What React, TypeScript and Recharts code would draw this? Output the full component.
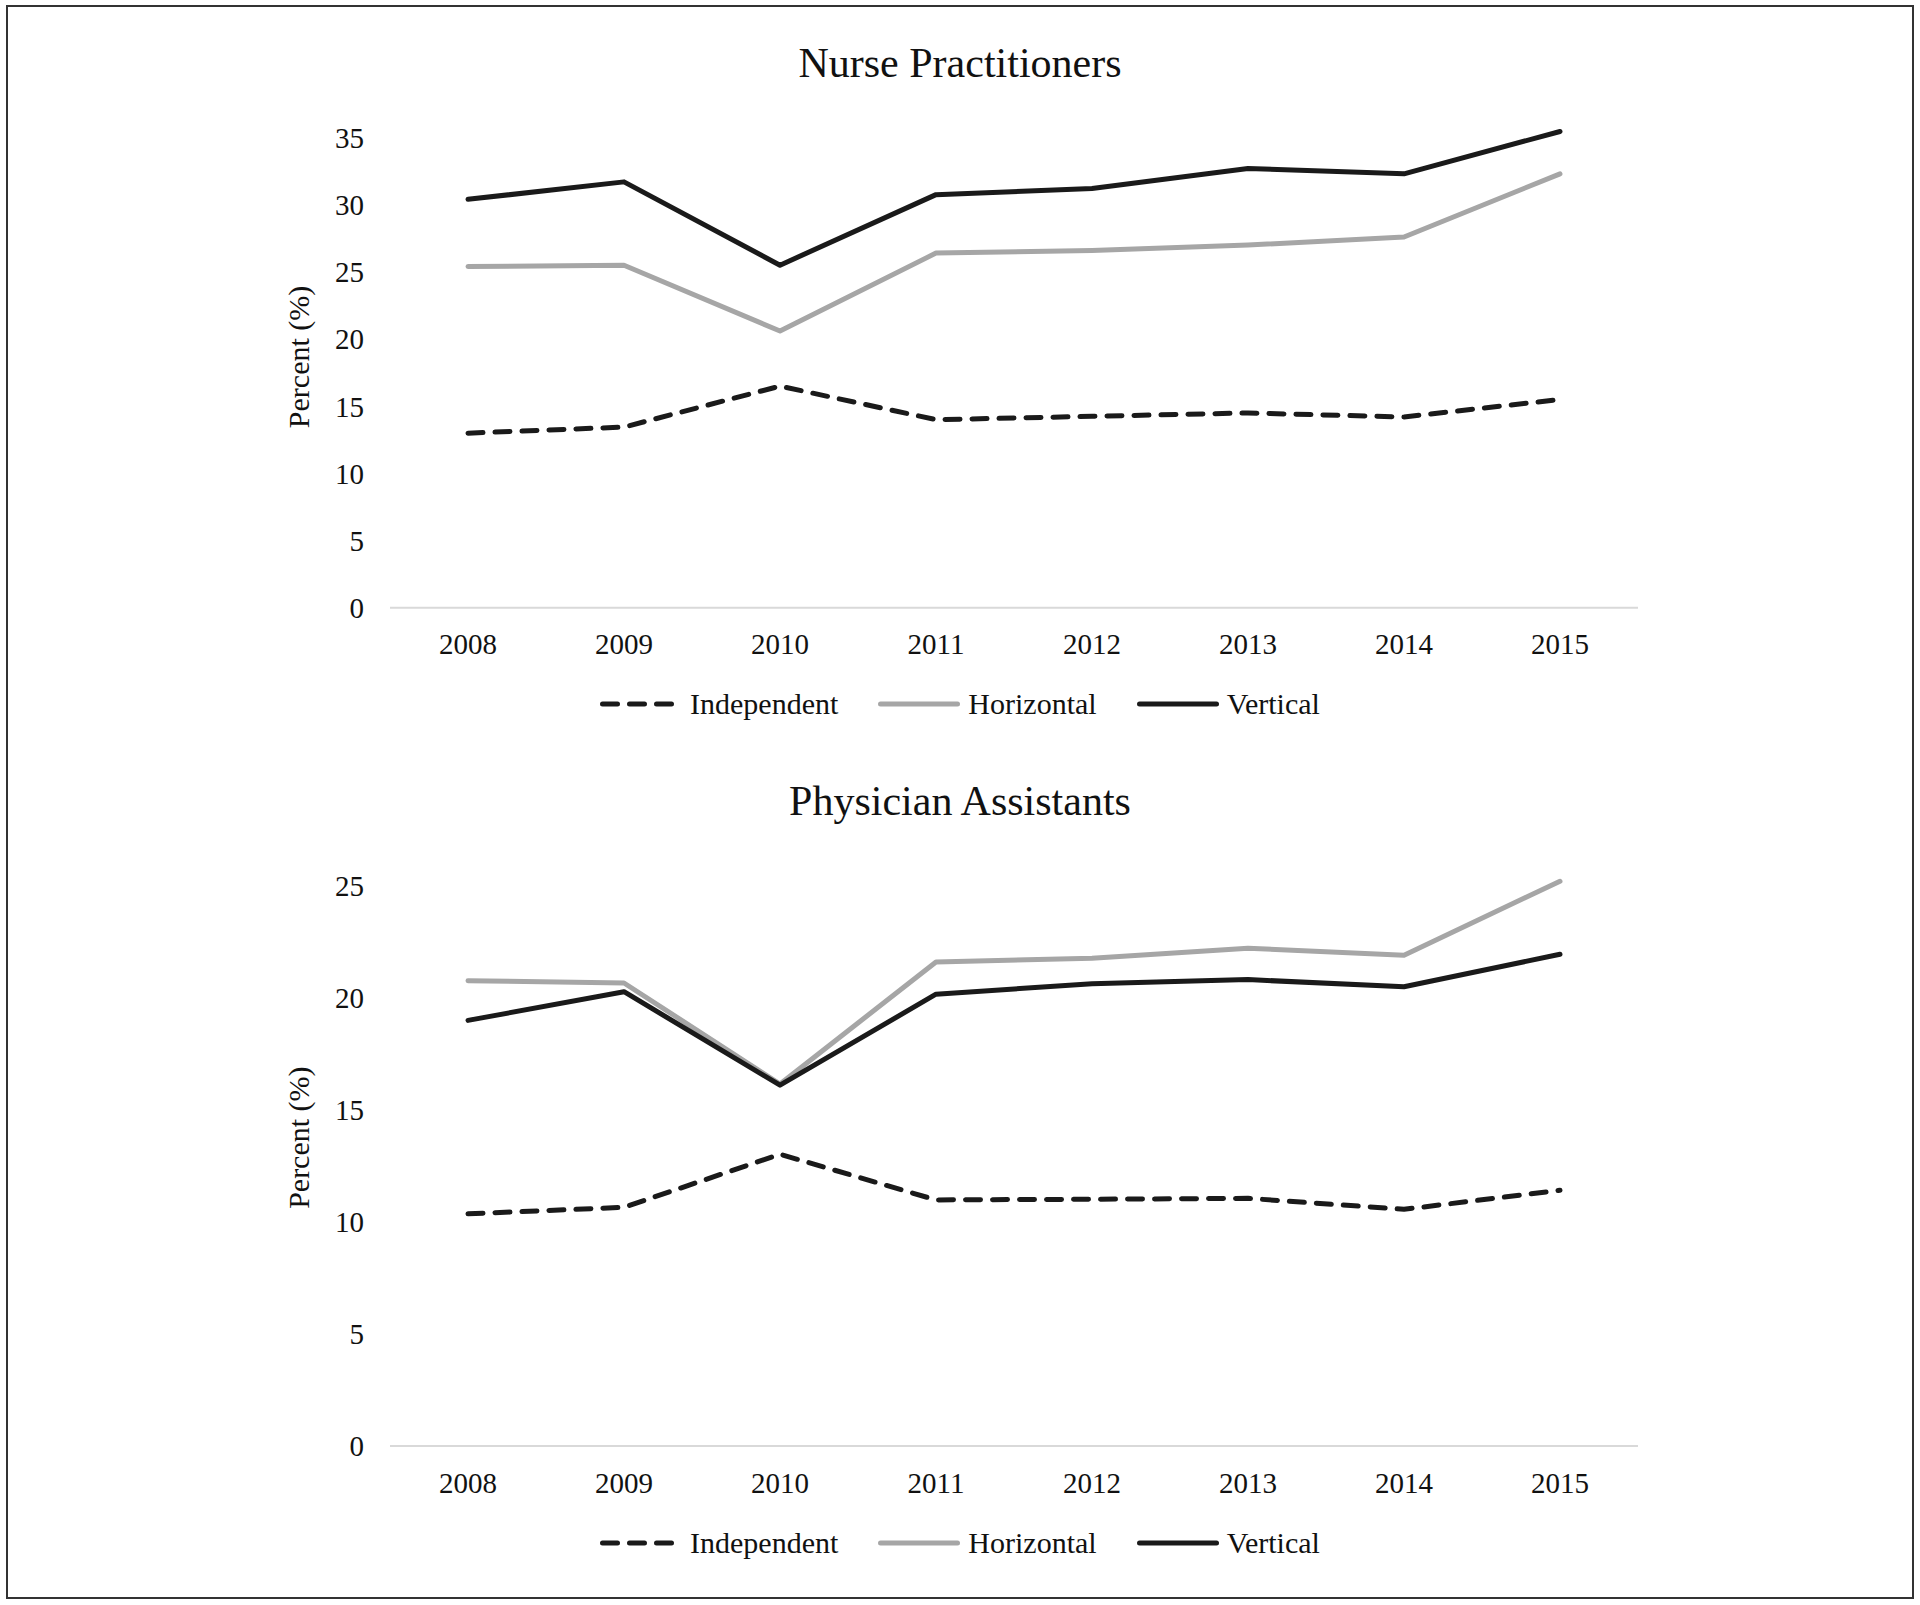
import { LineChart, Line, XAxis, YAxis, Legend, Label } from 'recharts';

const FONT = '"Liberation Serif", "Times New Roman", serif';

const years = ['2008', '2009', '2010', '2011', '2012', '2013', '2014', '2015'];

const npIndependent = [13.0, 13.45, 16.5, 14.0, 14.25, 14.5, 14.2, 15.5];
const npHorizontal = [25.4, 25.5, 20.6, 26.4, 26.6, 27.0, 27.6, 32.3];
const npVertical = [30.4, 31.7, 25.5, 30.75, 31.2, 32.7, 32.3, 35.45];

const paIndependent = [10.36, 10.65, 13.02, 10.98, 11.01, 11.05, 10.56, 11.41];
const paHorizontal = [20.76, 20.66, 16.15, 21.6, 21.76, 22.21, 21.9, 25.2];
const paVertical = [18.99, 20.27, 16.1, 20.16, 20.63, 20.81, 20.49, 21.94];

const npTicks = [0, 5, 10, 15, 20, 25, 30, 35];
const paTicks = [0, 5, 10, 15, 20, 25];

const series = [
  { key: 'independent', name: 'Independent', color: '#1a1a1a', dash: '15 12' },
  { key: 'horizontal', name: 'Horizontal', color: '#a6a6a6', dash: undefined },
  { key: 'vertical', name: 'Vertical', color: '#1a1a1a', dash: undefined },
];

const buildRows = (ind: number[], hor: number[], ver: number[]) =>
  years.map((year, i) => ({ year, independent: ind[i], horizontal: hor[i], vertical: ver[i] }));

const npData = buildRows(npIndependent, npHorizontal, npVertical);
const paData = buildRows(paIndependent, paHorizontal, paVertical);

// keep the legend in series order (recharts sorts by name otherwise)
const renderLegend = (props: any) => {
  const payload = [...(props.payload || [])].sort(
    (a: any, b: any) =>
      series.findIndex((s) => s.key === a.dataKey) - series.findIndex((s) => s.key === b.dataKey)
  );
  return (
    <div
      style={{
        display: 'flex',
        justifyContent: 'center',
        alignItems: 'center',
        height: 34,
        fontFamily: FONT,
        fontSize: 30,
        color: '#111',
      }}
    >
      {payload.map((entry: any, i: number) => {
        const s = series.find((x) => x.key === entry.dataKey);
        return (
          <div
            key={entry.value}
            style={{ display: 'flex', alignItems: 'center', marginRight: i < payload.length - 1 ? 40 : 0 }}
          >
            <svg width={82} height={10}>
              <line
                x1={2.5}
                y1={5}
                x2={79.5}
                y2={5}
                stroke={entry.color}
                strokeWidth={5}
                strokeLinecap="round"
                strokeDasharray={s?.dash}
              />
            </svg>
            <span style={{ marginLeft: 8, lineHeight: '34px' }}>{entry.value}</span>
          </div>
        );
      })}
    </div>
  );
};

const axisTitle = (shift: number) => (props: any) => {
  const { viewBox } = props;
  const x = viewBox.x + 9;
  const y = viewBox.y + viewBox.height / 2 + shift;
  return (
    <text
      x={x}
      y={y}
      transform={`rotate(-90, ${x}, ${y})`}
      textAnchor="middle"
      dominantBaseline="central"
      fontFamily={FONT}
      fontSize={30}
      fill="#111"
    >
      Percent (%)
    </text>
  );
};

interface PanelProps {
  data: any[];
  ticks: number[];
  max: number;
  height: number;
  margin: { top: number; right: number; bottom: number; left: number };
  legendTop: number;
  titleShift: number;
}

const Panel = ({ data, ticks, max, height, margin, legendTop, titleShift }: PanelProps) => (
  <LineChart width={1920} height={height} data={data} margin={margin}>
    <XAxis
      dataKey="year"
      height={60}
      padding={{ left: 78, right: 78 }}
      axisLine={{ stroke: '#d9d9d9', strokeWidth: 2 }}
      tickLine={false}
      tickMargin={20}
      tick={{ fontSize: 29, fontFamily: FONT, fill: '#111' }}
    />
    <YAxis
      width={100}
      domain={[0, max]}
      ticks={ticks}
      axisLine={false}
      tickLine={false}
      tickMargin={20}
      tick={{ fontSize: 29, fontFamily: FONT, fill: '#111' }}
    >
      <Label position="insideLeft" content={axisTitle(titleShift)} />
    </YAxis>
    <Legend
      layout="horizontal"
      verticalAlign="middle"
      align="center"
      wrapperStyle={{ top: legendTop, left: 0, width: 1920 }}
      content={renderLegend}
    />
    {series.map((s) => (
      <Line
        key={s.key}
        type="linear"
        dataKey={s.key}
        name={s.name}
        stroke={s.color}
        strokeWidth={5}
        strokeDasharray={s.dash}
        strokeLinecap="round"
        strokeLinejoin="round"
        dot={false}
        activeDot={false}
        isAnimationActive={false}
      />
    ))}
  </LineChart>
);

const titleStyle = (top: number): React.CSSProperties => ({
  position: 'absolute',
  left: 0,
  top,
  width: 1920,
  textAlign: 'center',
  fontFamily: FONT,
  fontSize: 42,
  lineHeight: '42px',
  color: '#111',
});

export default function App() {
  return (
    <div style={{ position: 'absolute', left: 0, top: 0, width: 1920, height: 1605, background: '#fff' }}>
      <div style={{ position: 'absolute', left: 0, top: 0 }}>
        <Panel
          data={npData}
          ticks={npTicks}
          max={36}
          height={760}
          margin={{ top: 124.1, right: 282, bottom: 92.2, left: 290 }}
          legendTop={687}
          titleShift={-9}
        />
      </div>
      <div style={{ position: 'absolute', left: 0, top: 760 }}>
        <Panel
          data={paData}
          ticks={paTicks}
          max={26}
          height={845}
          margin={{ top: 103.3, right: 282, bottom: 99, left: 290 }}
          legendTop={766}
          titleShift={-17}
        />
      </div>
      <div style={titleStyle(41.8)}>Nurse Practitioners</div>
      <div style={titleStyle(779.8)}>Physician Assistants</div>
      <div
        style={{
          position: 'absolute',
          left: 6,
          top: 5,
          width: 1908,
          height: 1594,
          border: '2.5px solid #333',
          boxSizing: 'border-box',
          pointerEvents: 'none',
        }}
      />
    </div>
  );
}
